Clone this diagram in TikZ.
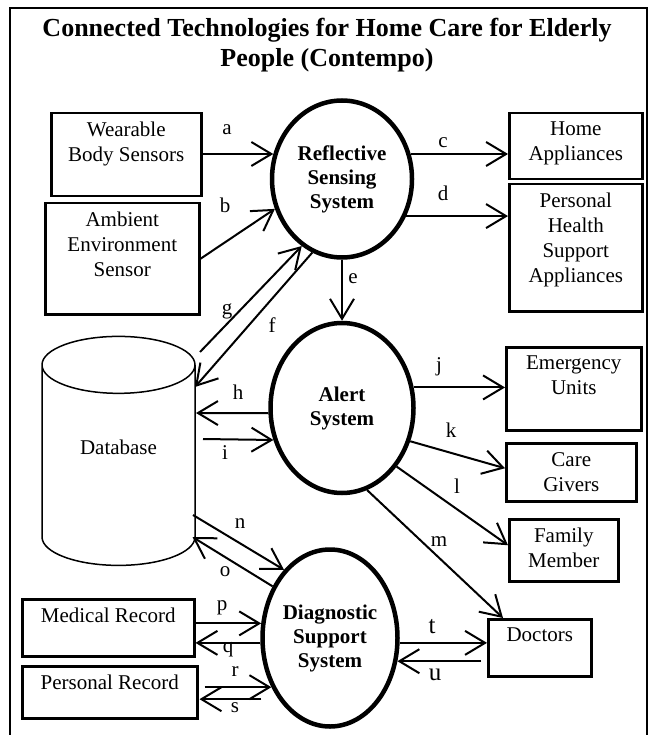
\documentclass[tikz,border=0pt]{standalone}
\usepackage{fontspec}
\setmainfont{Liberation Serif}
\usetikzlibrary{shapes.geometric, arrows.meta, positioning, calc}

\begin{document}
\begin{tikzpicture}[x=1pt, y=-1pt,
  box/.style={draw, line width=2.5pt, rectangle, inner sep=0pt, anchor=north west},
  boxtxt/.style={align=center, anchor=north, inner sep=0pt, yshift=-10pt, font=\fontsize{21}{25}\selectfont},
  proc/.style={ellipse, draw, line width=4.5pt, align=center, inner sep=0pt, font=\bfseries\fontsize{21}{24}\selectfont},
  arr/.style={line width=2pt, -{Straight Barb[length=20pt, width=24pt, line width=2pt]}},
  lbl/.style={inner sep=0pt, font=\fontsize{21}{25}\selectfont}]
\useasboundingbox (0,0) rectangle (652,735);
\draw[line width=2pt] (10,735) -- (10,8) -- (647,8) -- (647,735);
\node[align=center, inner sep=0pt, font=\bfseries\fontsize{26}{30}\selectfont] (title) at (327,45)
  {Connected Technologies for Home Care for Elderly\\People (Contempo)};

% inputs and outputs
\node[box, minimum width=150, minimum height=83, label={[boxtxt]north:Wearable\\Body Sensors}] (wear) at (50,112) {};
\node[box, minimum width=154, minimum height=111, label={[boxtxt]north:Ambient\\Environment\\Sensor}] (amb) at (44,202) {};
\node[box, minimum width=133, minimum height=66, label={[boxtxt]north:Home\\Appliances}] (home) at (508,112) {};
\node[box, minimum width=133, minimum height=127, label={[boxtxt]north:Personal\\Health\\Support\\Appliances}] (pha) at (508,183) {};
\node[box, minimum width=135, minimum height=83, label={[boxtxt]north:Emergency\\Units}] (emu) at (505,346) {};
\node[box, minimum width=130, minimum height=58, label={[boxtxt]north:Care\\Givers}] (care) at (505,442) {};
\node[box, minimum width=109, minimum height=62, label={[boxtxt]north:Family\\Member}] (fam) at (508,518) {};
\node[box, minimum width=103, minimum height=57, label={[boxtxt]north:Doctors}] (doc) at (487,618) {};
\node[box, minimum width=172, minimum height=57, label={[boxtxt]north:Medical Record}] (med) at (21,598) {};
\node[box, minimum width=175, minimum height=52, label={[boxtxt]north:Personal Record}] (prec) at (21,665) {};

% systems
\node[proc, minimum width=140, minimum height=157] (rss) at (342,179) {Reflective\\Sensing\\System};
\node[proc, minimum width=143, minimum height=170] (alert) at (342,408) {Alert\\System};
\node[proc, minimum width=135, minimum height=177] (diag) at (330,638) {Diagnostic\\Support\\System};
\node[draw, cylinder, shape border rotate=90, aspect=0.74, minimum width=153, minimum height=229,
  line width=1.5pt, inner sep=0pt, font=\fontsize{21}{25}\selectfont] (db) at (118.5,465.5) {\raisebox{36pt}{Database}};

% flows
\draw[arr] (rss.160 -| wear.east) -- (rss.160);
\draw[arr] (amb.east) -- (rss.204);
\draw[arr] (rss.20) -- (rss.20 -| home.west);
\draw[arr] (rss.-30) -- (rss.-30 -| pha.west);
\draw[arr] (rss.south) -- (alert.north);
\draw[arr] ($(db.center)+(81.5,-113.5)$) -- (rss.239);
\draw[arr] (rss.248) -- ($(db.center)+(76.5,-78.5)$);
\draw[arr] (alert.184) -- ($(db.center)+(77.5,-52.5)$);
\draw[arr] ($(db.center)+(84.5,-26.5)$) -- (alert.205);
\draw[arr] (alert.16) -- (alert.16 -| emu.west);
\draw[arr] (alert.-26) -- ([yshift=4pt]care.west);
\draw[arr] (alert.-47) -- ([yshift=5pt]fam.west);
\draw[arr] (alert.-73) -- ([xshift=16pt]doc.north west);
\draw[arr] ($(db.center)+(74.5,49.5)$) -- (diag.124);
\draw[arr] (diag.138) -- ($(db.center)+(74,71.5)$);
\draw[arr] (diag.168 -| med.east) -- (diag.168);
\draw[arr] (diag.184) -- (diag.184 -| med.east);
\draw[arr] ($(diag.220 -| prec.east)+(6,0)$) -- (diag.220);
\draw[arr] ($(diag.220)+(-10,12)$) -- ($(diag.220 -| prec.east)+(1,12)$);
\draw[arr] (diag.-4) -- (diag.-4 -| doc.west);
\draw[arr] ($(diag.-19 -| doc.west)+(-6,0)$) -- (diag.-19);

% flow labels
\node[lbl] (la) at (227,130) {a};
\node[lbl] (lb) at (225,205) {b};
\node[lbl] (lc) at (443,143) {c};
\node[lbl] (ld) at (443,193) {d};
\node[lbl] (le) at (353,279) {e};
\node[lbl] (lf) at (272,325) {f};
\node[lbl] (lg) at (227,311) {g};
\node[lbl] (lh) at (238,392) {h};
\node[lbl] (li) at (225,453) {i};
\node[lbl] (lj) at (439,367) {j};
\node[lbl] (lk) at (451,430) {k};
\node[lbl] (ll) at (457,486) {l};
\node[lbl] (lm) at (439,542) {m};
\node[lbl] (ln) at (240,524) {n};
\node[lbl] (lo) at (225,572) {o};
\node[lbl] (lp) at (222,608) {p};
\node[lbl] (lq) at (228,650) {q};
\node[lbl] (lr) at (235,672) {r};
\node[lbl] (ls) at (235,708) {s};
\node[lbl, font=\fontsize{25}{30}\selectfont] (lt) at (432,627) {t};
\node[lbl, font=\fontsize{25}{30}\selectfont] (lu) at (435,675) {u};
\end{tikzpicture}
\end{document}
